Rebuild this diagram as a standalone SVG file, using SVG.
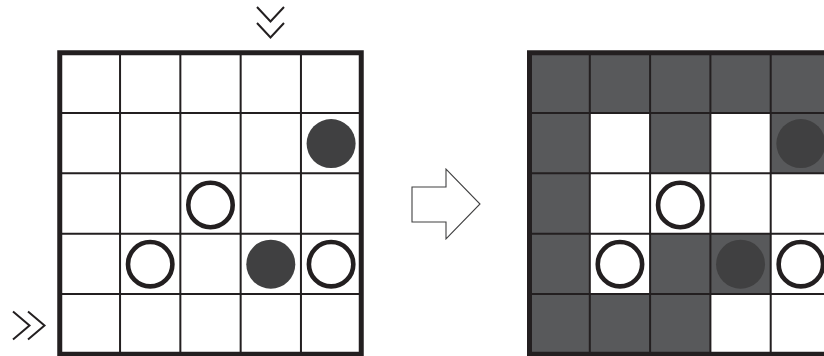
<svg xmlns="http://www.w3.org/2000/svg" width="824" height="356" viewBox="0 0 824 356">
  <style>
    .gl { stroke: #231f20; stroke-width: 2; fill: none; }
    .border { stroke: #231f20; stroke-width: 5; fill: none; }
    .shade { fill: #58595b; }
    .open { fill: #ffffff; stroke: #231f20; stroke-width: 4.6; }
    .filled { fill: #404041; }
    .chev { fill: none; stroke: #231f20; stroke-width: 2; }
    .bigarrow { fill: #ffffff; stroke: #404041; stroke-width: 1.1; }
  </style>
  <defs>
    <g id="gridlines">
      <path class="gl" d="M120.05 52.75V354.25M180.35 52.75V354.25M240.65 52.75V354.25M300.95 52.75V354.25M59.75 113.05H361.25M59.75 173.35H361.25M59.75 233.65H361.25M59.75 293.95H361.25"/>
    </g>
  </defs>
  <rect width="824" height="356" fill="#ffffff"/>

  <g id="marks">
    <path class="chev" d="M257 7L270.5 21.5L284 7M257 23L270.5 37.5L284 23"/>
    <path class="chev" d="M13 311.5L29.5 325.5L13 339.5M28 311.5L44.5 325.5L28 339.5"/>
  </g>

  <g id="grid-before">
    <rect x="59.75" y="52.75" width="301.5" height="301.5" fill="#ffffff"/>
    <use href="#gridlines"/>
    <rect class="border" x="59.75" y="52.75" width="301.5" height="301.5"/>
    <circle class="filled" cx="331.1" cy="143.6" r="24.5"/>
    <circle class="open" cx="210.5" cy="205" r="22.2"/>
    <circle class="open" cx="150.2" cy="264.2" r="22.2"/>
    <circle class="filled" cx="270.8" cy="264.2" r="24.5"/>
    <circle class="open" cx="331.1" cy="264.2" r="22.2"/>
  </g>

  <g id="connectors">
    <polygon class="bigarrow" points="412,187 446,187 446,169 480,204 446,239 446,222 412,222"/>
  </g>

  <g id="grid-after">
    <rect x="529.5" y="52.75" width="301.5" height="301.5" fill="#ffffff"/>
    <g class="shade">
      <rect x="529.5" y="52.75" width="301.5" height="60.3"/>
      <rect x="529.5" y="113.05" width="60.3" height="241.2"/>
      <rect x="650.1" y="113.05" width="60.3" height="60.3"/>
      <rect x="770.7" y="113.05" width="60.3" height="60.3"/>
      <rect x="650.1" y="233.65" width="120.6" height="60.3"/>
      <rect x="589.8" y="293.95" width="120.6" height="60.3"/>
    </g>
    <use href="#gridlines" transform="translate(469.75 0)"/>
    <rect class="border" x="529.5" y="52.75" width="301.5" height="301.5"/>
    <circle class="filled" cx="800.85" cy="143.6" r="24.5"/>
    <circle class="open" cx="680.25" cy="205" r="22.2"/>
    <circle class="open" cx="619.95" cy="264.2" r="22.2"/>
    <circle class="filled" cx="740.55" cy="264.2" r="24.5"/>
    <circle class="open" cx="800.85" cy="264.2" r="22.2"/>
  </g>
</svg>
